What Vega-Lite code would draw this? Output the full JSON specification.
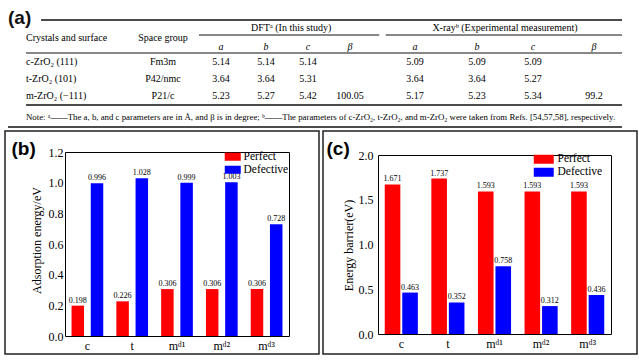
{
  "$schema": "https://vega.github.io/schema/vega-lite/v6.json",
  "background": "white",
  "padding": {"left": 4, "top": 0, "right": 0, "bottom": 0},
  "config": {
    "font": "Liberation Serif",
    "view": {"stroke": null},
    "axis": {"grid": false, "ticks": false, "domainColor": "#000", "domainWidth": 1, "labelFont": "Liberation Serif", "labelFontSize": 12, "labelColor": "#000", "titleFont": "Liberation Serif", "titleFontSize": 12, "titleFontWeight": "normal", "titleColor": "#000"}
  },
  "datasets": {
    "rulesThick": [
      {"row": -0.5, "col": 0.11, "col2": 10},
      {"row": 5.5, "col": 0, "col2": 10},
      {"row": 7, "col": -1, "col2": 10}
    ],
    "rulesThin": [
      {"row": 0.5, "col": 1.62, "col2": 5.45},
      {"row": 0.5, "col": 5.55, "col2": 10},
      {"row": 2.5, "col": 0, "col2": 10}
    ],
    "table": [
      {"row": -0.5, "col": -1, "text": "(a)"},
      {"row": 0, "col": 3.6, "text": "DFTᵃ (In this study)"},
      {"row": 0, "col": 7.5, "text": "X-rayᵇ (Experimental measurement)"},
      {"row": 1, "col": 0, "text": "Crystals and surface"},
      {"row": 1, "col": 1, "text": "Space group"},
      {"row": 2, "col": 2, "text": "a"},
      {"row": 2, "col": 3, "text": "b"},
      {"row": 2, "col": 4, "text": "c"},
      {"row": 2, "col": 5, "text": "β"},
      {"row": 2, "col": 6, "text": "a"},
      {"row": 2, "col": 7, "text": "b"},
      {"row": 2, "col": 8, "text": "c"},
      {"row": 2, "col": 9, "text": "β"},
      {"row": 3, "col": 0, "text": "c-ZrO₂ (111)"},
      {"row": 3, "col": 1, "text": "Fm3m"},
      {"row": 3, "col": 2, "text": "5.14"},
      {"row": 3, "col": 3, "text": "5.14"},
      {"row": 3, "col": 4, "text": "5.14"},
      {"row": 3, "col": 6, "text": "5.09"},
      {"row": 3, "col": 7, "text": "5.09"},
      {"row": 3, "col": 8, "text": "5.09"},
      {"row": 4, "col": 0, "text": "t-ZrO₂ (101)"},
      {"row": 4, "col": 1, "text": "P42/nmc"},
      {"row": 4, "col": 2, "text": "3.64"},
      {"row": 4, "col": 3, "text": "3.64"},
      {"row": 4, "col": 4, "text": "5.31"},
      {"row": 4, "col": 6, "text": "3.64"},
      {"row": 4, "col": 7, "text": "3.64"},
      {"row": 4, "col": 8, "text": "5.27"},
      {"row": 5, "col": 0, "text": "m-ZrO₂ (−111)"},
      {"row": 5, "col": 1, "text": "P21/c"},
      {"row": 5, "col": 2, "text": "5.23"},
      {"row": 5, "col": 3, "text": "5.27"},
      {"row": 5, "col": 4, "text": "5.42"},
      {"row": 5, "col": 5, "text": "100.05"},
      {"row": 5, "col": 6, "text": "5.17"},
      {"row": 5, "col": 7, "text": "5.23"},
      {"row": 5, "col": 8, "text": "5.34"},
      {"row": 5, "col": 9, "text": "99.2"},
      {"row": 6, "col": 0, "text": "Note: ᵃ——The a, b, and c parameters are in Å, and β is in degree; ᵇ——The parameters of c-ZrO₂, t-ZrO₂, and m-ZrO₂ were taken from Refs. [54,57,58], respectively."}
    ],
    "b": [
      {"cat": "c", "type": "Perfect", "value": 0.198},
      {"cat": "c", "type": "Defective", "value": 0.996},
      {"cat": "t", "type": "Perfect", "value": 0.226},
      {"cat": "t", "type": "Defective", "value": 1.028},
      {"cat": "mᵈ¹", "type": "Perfect", "value": 0.306},
      {"cat": "mᵈ¹", "type": "Defective", "value": 0.999},
      {"cat": "mᵈ²", "type": "Perfect", "value": 0.306},
      {"cat": "mᵈ²", "type": "Defective", "value": 1.003},
      {"cat": "mᵈ³", "type": "Perfect", "value": 0.306},
      {"cat": "mᵈ³", "type": "Defective", "value": 0.728}
    ],
    "c": [
      {"cat": "c", "type": "Perfect", "value": 1.671},
      {"cat": "c", "type": "Defective", "value": 0.463},
      {"cat": "t", "type": "Perfect", "value": 1.737},
      {"cat": "t", "type": "Defective", "value": 0.352},
      {"cat": "mᵈ¹", "type": "Perfect", "value": 1.593},
      {"cat": "mᵈ¹", "type": "Defective", "value": 0.758},
      {"cat": "mᵈ²", "type": "Perfect", "value": 1.593},
      {"cat": "mᵈ²", "type": "Defective", "value": 0.312},
      {"cat": "mᵈ³", "type": "Perfect", "value": 1.593},
      {"cat": "mᵈ³", "type": "Defective", "value": 0.436}
    ]
  },
  "spacing": 2,
  "resolve": {"scale": {"x": "independent", "y": "independent", "color": "independent"}},
  "vconcat": [
    {
      "width": 635,
      "height": 128,
      "view": {"stroke": null},
      "encoding": {
        "x": {"field": "col", "type": "quantitative", "scale": {"domain": [-1, 0, 1, 2, 3, 4, 5, 6, 7, 8, 9, 10], "range": [3, 21, 158, 216, 261, 303, 345, 410, 472, 528, 589, 617], "zero": false, "nice": false}, "axis": null},
        "y": {"field": "row", "type": "quantitative", "scale": {"domain": [-0.5, 0, 0.5, 1, 2, 2.5, 3, 4, 5, 5.5, 6, 7], "range": [20, 28, 35, 38, 47, 53, 62, 79, 96, 105, 117, 127], "zero": false, "nice": false}, "axis": null}
      },
      "layer": [
        {"data": {"name": "rulesThick"}, "mark": {"type": "rule", "strokeWidth": 1.6, "color": "#111"}, "encoding": {"x2": {"field": "col2"}}},
        {"data": {"name": "rulesThin"}, "mark": {"type": "rule", "strokeWidth": 1, "color": "#111"}, "encoding": {"x2": {"field": "col2"}}},
        {"data": {"name": "table"}, "transform": [{"filter": "datum.col == 0 && datum.row != 6"}], "mark": {"type": "text", "align": "left", "baseline": "middle", "font": "Liberation Serif", "fontSize": 10, "fill": "#000"}, "encoding": {"text": {"field": "text"}}},
        {"data": {"name": "table"}, "transform": [{"filter": "datum.row == 6"}], "mark": {"type": "text", "align": "left", "baseline": "middle", "font": "Liberation Serif", "fontSize": 8.8, "fill": "#000"}, "encoding": {"text": {"field": "text"}}},
        {"data": {"name": "table"}, "transform": [{"filter": "datum.col >= 1 && datum.row != 2"}], "mark": {"type": "text", "align": "center", "baseline": "middle", "font": "Liberation Serif", "fontSize": 10, "fill": "#000"}, "encoding": {"text": {"field": "text"}}},
        {"data": {"name": "table"}, "transform": [{"filter": "datum.row == 2"}], "mark": {"type": "text", "align": "center", "baseline": "middle", "font": "Liberation Serif", "fontSize": 10, "fontStyle": "italic", "fill": "#000"}, "encoding": {"text": {"field": "text"}}},
        {"data": {"name": "table"}, "transform": [{"filter": "datum.col == -1"}], "mark": {"type": "text", "align": "left", "baseline": "middle", "dy": -2, "font": "Liberation Sans", "fontSize": 19, "fontWeight": "bold", "fill": "#111"}, "encoding": {"text": {"field": "text"}}}
      ]
    },
    {
      "spacing": 2,
      "resolve": {"scale": {"x": "independent", "y": "independent", "xOffset": "independent", "color": "independent"}, "legend": {"color": "independent"}},
      "hconcat": [
        {
          "width": 314,
          "height": 223,
          "view": {"stroke": "#222", "strokeWidth": 1.5},
          "data": {"name": "b"},
          "resolve": {"axis": {"x": "independent", "y": "independent"}},
          "layer": [
            {
              "mark": {"type": "bar"},
              "encoding": {
                "x": {"field": "cat", "type": "nominal", "sort": ["c", "t", "mᵈ¹", "mᵈ²", "mᵈ³"], "scale": {"range": [60, 284], "paddingInner": 0, "paddingOuter": 0},
                  "axis": {"orient": "bottom", "offset": -18, "title": null, "labelAngle": 0, "labelPadding": 4}},
                "xOffset": {"field": "type", "type": "nominal", "sort": ["Perfect", "Defective"], "scale": {"paddingInner": 0.35, "paddingOuter": 0.34}},
                "y": {"field": "value", "type": "quantitative", "scale": {"domain": [0, 1.2], "range": [205, 21], "nice": false},
                  "axis": {"orient": "left", "offset": -60, "values": [0, 0.2, 0.4, 0.6, 0.8, 1.0, 1.2], "format": ".1f", "labelPadding": 2, "title": "Adsorption energy/eV", "titleX": -29, "titleY": 109, "titleAngle": -90, "titleAlign": "center", "titleBaseline": "middle"}},
                "color": {"field": "type", "type": "nominal", "scale": {"domain": ["Perfect", "Defective"], "range": ["#ff0000", "#0000ff"]},
                  "legend": {"orient": "none", "legendX": 222, "legendY": 20, "title": null, "symbolType": "M-1.6,-0.8H1.6V0.8H-1.6Z", "symbolSize": 100, "symbolStrokeWidth": 0, "labelFont": "Liberation Serif", "labelFontSize": 11.5, "labelColor": "#000", "labelOffset": 5, "rowPadding": 0, "padding": 0}}
              }
            },
            {
              "mark": {"type": "text", "baseline": "bottom", "dy": -1, "font": "Liberation Serif", "fontSize": 8, "fill": "#000"},
              "encoding": {
                "x": {"field": "cat", "type": "nominal", "sort": ["c", "t", "mᵈ¹", "mᵈ²", "mᵈ³"], "scale": {"range": [60, 284], "paddingInner": 0, "paddingOuter": 0},
                  "axis": {"orient": "top", "offset": -21, "labels": false, "title": "(b)", "titleX": 6, "titleY": -3.5, "titleAlign": "left", "titleBaseline": "middle", "titleAngle": 0, "titleFont": "Liberation Sans", "titleFontSize": 19, "titleFontWeight": "bold"}},
                "xOffset": {"field": "type", "type": "nominal", "sort": ["Perfect", "Defective"], "scale": {"paddingInner": 0.35, "paddingOuter": 0.34}},
                "y": {"field": "value", "type": "quantitative", "scale": {"domain": [0, 1.2], "range": [205, 21], "nice": false},
                  "axis": {"orient": "right", "offset": -30, "labels": false, "title": null}},
                "text": {"field": "value", "type": "quantitative", "format": ".3f"}
              }
            }
          ]
        },
        {
          "width": 314,
          "height": 223,
          "view": {"stroke": "#222", "strokeWidth": 1.5},
          "data": {"name": "c"},
          "resolve": {"axis": {"x": "independent", "y": "independent"}},
          "layer": [
            {
              "mark": {"type": "bar"},
              "encoding": {
                "x": {"field": "cat", "type": "nominal", "sort": ["c", "t", "mᵈ¹", "mᵈ²", "mᵈ³"], "scale": {"range": [55, 288], "paddingInner": 0, "paddingOuter": 0},
                  "axis": {"orient": "bottom", "offset": -20, "title": null, "labelAngle": 0, "labelPadding": 4}},
                "xOffset": {"field": "type", "type": "nominal", "sort": ["Perfect", "Defective"], "scale": {"paddingInner": 0.11, "paddingOuter": 0.385}},
                "y": {"field": "value", "type": "quantitative", "scale": {"domain": [0, 2], "range": [203, 24], "nice": false},
                  "axis": {"orient": "left", "offset": -55, "values": [0, 0.5, 1.0, 1.5, 2.0], "format": ".1f", "labelPadding": 5, "title": "Energy barrier(eV)", "titleX": -30, "titleY": 114, "titleAngle": -90, "titleAlign": "center", "titleBaseline": "middle"}},
                "color": {"field": "type", "type": "nominal", "scale": {"domain": ["Perfect", "Defective"], "range": ["#ff0000", "#0000ff"]},
                  "legend": {"orient": "none", "legendX": 215, "legendY": 22.5, "title": null, "symbolType": "M-2,-0.9H2V0.9H-2Z", "symbolSize": 100, "symbolStrokeWidth": 0, "labelFont": "Liberation Serif", "labelFontSize": 11.5, "labelColor": "#000", "labelOffset": 8, "rowPadding": 0, "padding": 0}}
              }
            },
            {
              "mark": {"type": "text", "baseline": "bottom", "dy": -1, "font": "Liberation Serif", "fontSize": 8, "fill": "#000"},
              "encoding": {
                "x": {"field": "cat", "type": "nominal", "sort": ["c", "t", "mᵈ¹", "mᵈ²", "mᵈ³"], "scale": {"range": [55, 288], "paddingInner": 0, "paddingOuter": 0},
                  "axis": {"orient": "top", "offset": -24, "labels": false, "title": "(c)", "titleX": 3, "titleY": -6.5, "titleAlign": "left", "titleBaseline": "middle", "titleAngle": 0, "titleFont": "Liberation Sans", "titleFontSize": 19, "titleFontWeight": "bold"}},
                "xOffset": {"field": "type", "type": "nominal", "sort": ["Perfect", "Defective"], "scale": {"paddingInner": 0.11, "paddingOuter": 0.385}},
                "y": {"field": "value", "type": "quantitative", "scale": {"domain": [0, 2], "range": [203, 24], "nice": false},
                  "axis": {"orient": "right", "offset": -26, "labels": false, "title": null}},
                "text": {"field": "value", "type": "quantitative", "format": ".3f"}
              }
            }
          ]
        }
      ]
    }
  ]
}
